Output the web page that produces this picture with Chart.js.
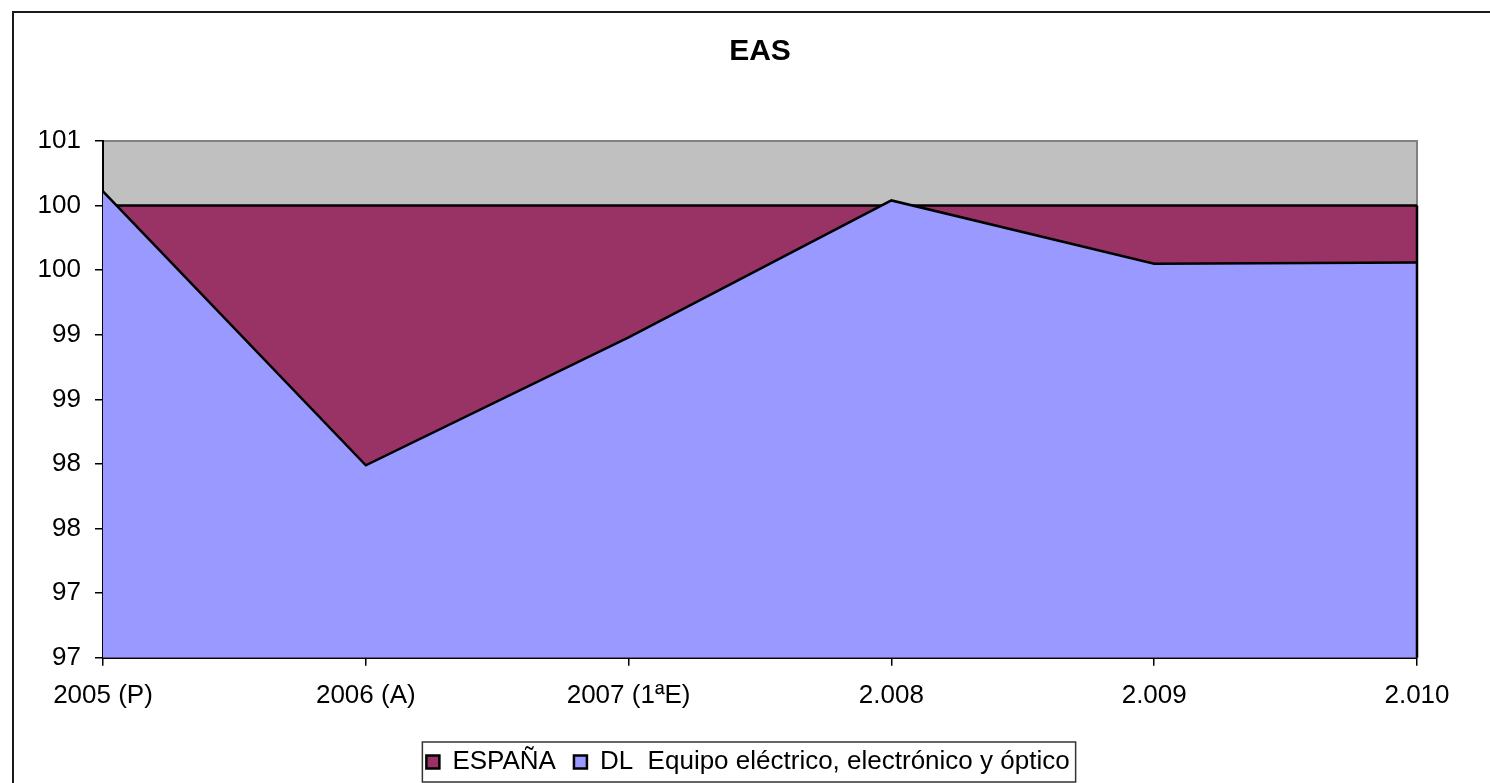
<!DOCTYPE html>
<html>
<head>
<meta charset="utf-8">
<title>EAS</title>
<script src="https://cdn.jsdelivr.net/npm/chart.js@4.4.1/dist/chart.umd.min.js"></script>
<style>
  html, body { margin: 0; padding: 0; background: #fff; overflow: hidden; }
  #wrap { position: relative; width: 1490px; height: 783px; }
</style>
</head>
<body>
<div id="wrap"><canvas id="easChart"></canvas></div>
<script>
'use strict';

// ── data ────────────────────────────────────────────────────
const YEARS     = ['2005 (P)', '2006 (A)', '2007 (1ªE)', '2.008', '2.009', '2.010'];
const ESPANA    = [100, 100, 100, 100, 100, 100];
const DL_EQUIPO = [100.11, 97.99, 98.98, 100.04, 99.55, 99.56];
const NAME_ESP  = 'ESPAÑA';
const NAME_DL   = 'DL  Equipo eléctrico, electrónico y óptico';
const Y_MIN = 96.5, Y_MAX = 100.5, Y_STEP = 0.5;

const COL_ESP  = '#993366';
const COL_DL   = '#9999FF';
const PLOT_BG  = '#C0C0C0';

Chart.defaults.font.family = "'Liberation Sans', Arial, sans-serif";
Chart.defaults.color = '#000';

// grey plot area, outer frame, right closing edge of the areas, legend box
const excelFrame = {
    id: 'excelFrame',
    beforeDraw(chart) {
        const { ctx, chartArea: a } = chart;
        ctx.save();
        ctx.fillStyle = '#fff';
        ctx.fillRect(0, 0, chart.width, chart.height);
        ctx.strokeStyle = '#1a1a1a';
        ctx.lineWidth = 2;
        ctx.strokeRect(13, 12, chart.width + 40, chart.height + 40);
        ctx.fillStyle = PLOT_BG;
        ctx.fillRect(a.left, a.top, a.right - a.left, a.bottom - a.top);
        ctx.strokeStyle = '#808080';
        ctx.beginPath();
        ctx.moveTo(a.left, a.top);
        ctx.lineTo(a.right, a.top);
        ctx.lineTo(a.right, a.bottom);
        ctx.stroke();
        ctx.restore();
    },
    afterDatasetsDraw(chart) {
        const { ctx, chartArea: a, scales: { y } } = chart;
        const n = YEARS.length - 1;
        const top = Math.max(ESPANA[n], DL_EQUIPO[n]);
        ctx.save();
        ctx.strokeStyle = '#000';
        ctx.lineWidth = 2.5;
        ctx.beginPath();
        ctx.moveTo(a.right, y.getPixelForValue(top));
        ctx.lineTo(a.right, a.bottom);
        ctx.stroke();
        ctx.restore();
    },
    afterDraw(chart) {
        const boxes = chart.legend && chart.legend.legendHitBoxes;
        if (!boxes || !boxes.length) return;
        const left  = Math.min(...boxes.map(b => b.left)) - 4;
        const right = Math.max(...boxes.map(b => b.left + b.width)) + 6;
        const mid   = boxes[0].top + boxes[0].height / 2;
        const ctx = chart.ctx;
        ctx.save();
        ctx.strokeStyle = '#333';
        ctx.lineWidth = 1.5;
        ctx.strokeRect(left, mid - 20, right - left, 40);
        ctx.restore();
    }
};

new Chart(document.getElementById('easChart'), {
    type: 'line',
    data: {
        labels: YEARS,
        datasets: [
            {
                label: NAME_DL,
                data: DL_EQUIPO,
                borderColor: '#000',
                backgroundColor: COL_DL,
                borderWidth: 2.5,
                fill: 'start',
                tension: 0,
                pointRadius: 0,
            },
            {
                label: NAME_ESP,
                data: ESPANA,
                borderColor: '#000',
                backgroundColor: COL_ESP,
                borderWidth: 2.5,
                fill: 'start',
                tension: 0,
                pointRadius: 0,
            }
        ]
    },
    options: {
        responsive: true,
        maintainAspectRatio: false,
        animation: false,
        layout: { padding: { left: 14, right: 8, top: 0, bottom: -2 } },
        plugins: {
            title: {
                display: true,
                fullSize: false,
                text: 'EAS',
                color: '#000',
                font: { size: 30, weight: 'bold' },
                padding: { top: 34, bottom: 71 }
            },
            legend: {
                position: 'bottom',
                reverse: true,
                labels: {
                    boxWidth: 13,
                    boxHeight: 13,
                    padding: 18,
                    color: '#000',
                    font: { size: 26 }
                }
            },
            tooltip: { enabled: false }
        },
        scales: {
            x: {
                type: 'category',
                offset: false,
                z: 1,
                afterFit: s => { s.height += 6; },
                border: { display: true, color: '#000', width: 2 },
                grid: { drawOnChartArea: false, drawTicks: true, tickLength: 8, color: '#000', lineWidth: 1.5 },
                ticks: { color: '#000', font: { size: 26 }, padding: 14, maxRotation: 0, autoSkip: false }
            },
            y: {
                min: Y_MIN,
                max: Y_MAX,
                z: 1,
                afterFit: s => { s.width = 89; },
                border: { display: true, color: '#000', width: 2 },
                grid: { drawOnChartArea: false, drawTicks: true, tickLength: 8, color: '#000', lineWidth: 1.5 },
                ticks: {
                    stepSize: Y_STEP,
                    color: '#000',
                    font: { size: 26 },
                    padding: 14,
                    callback: v => Math.round(v)
                }
            },
            // empty right-hand gutter, keeps the plot narrower than the chart frame
            gutter: {
                type: 'linear',
                position: 'right',
                grid: { display: false, drawTicks: false },
                border: { display: false },
                ticks: { display: false },
                afterFit: s => { s.width = 65; }
            }
        }
    },
    plugins: [excelFrame]
});
</script>
</body>
</html>
